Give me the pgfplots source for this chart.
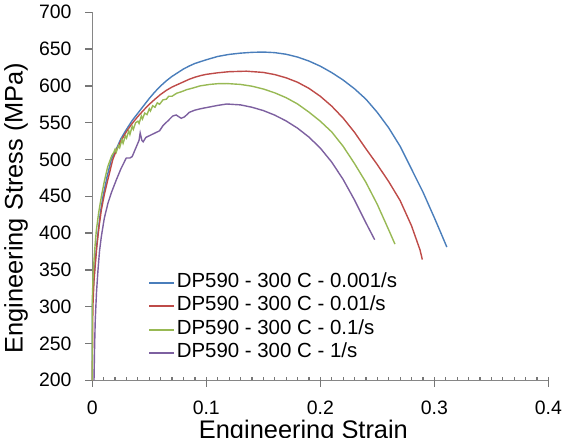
\documentclass[border=0pt]{standalone}
\usepackage{fontspec}
\setmainfont{Liberation Sans}
\usepackage{pgfplots}
\pgfplotsset{compat=1.18}
\definecolor{cblue}{RGB}{74,126,187}
\definecolor{cred}{RGB}{190,75,72}
\definecolor{cgreen}{RGB}{152,185,84}
\definecolor{cpurple}{RGB}{125,96,160}
\definecolor{axgray}{RGB}{134,134,134}
\definecolor{tickgray}{RGB}{118,118,118}
\begin{document}
\begin{tikzpicture}
\begin{axis}[
  at={(0,0)}, anchor=south west,
  scale only axis, width=456bp, height=368bp,
  xmin=0, xmax=0.4, ymin=200, ymax=700, clip=false,
  axis lines=left, axis line style={-, axgray, line width=0.9bp},
  xtick={0,0.1,0.2,0.3,0.4}, xticklabels={0,0.1,0.2,0.3,0.4},
  ytick={200,250,...,700},
  major tick length=0pt,
  /pgf/number format/assume math mode=true,
  tick label style={font=\fontsize{19.5}{22}\selectfont},
  x tick label style={anchor=base, yshift=-34bp},
  y tick label style={anchor=east, inner xsep=0pt, xshift=-20.6bp},
  xlabel={Engineering Strain}, ylabel={Engineering Stress (MPa)},
  label style={font=\fontsize{25.5}{28}\selectfont},
  xlabel style={at={(axis description cs:0.463,-0.157)}, anchor=base},
  ylabel style={at={(axis description cs:-0.1673,0.468)}, anchor=center},
  legend cell align=left,
  legend image code/.code={\draw[#1, line width=1.8bp] (0bp,0bp) -- (25bp,0bp);},
  legend style={at={(axis description cs:0.1228,0.292)}, anchor=north west,
    draw=none, fill=none, inner sep=0pt, row sep=3.3bp,
    font=\fontsize{20.5}{23}\selectfont,
    nodes={inner xsep=1.5bp, inner ysep=0pt, text height=14.5bp, text depth=5.5bp}},
]
% tick marks in axis units: major x cross the axis, minor x inside, y outside
\pgfplotsinvokeforeach{0,0.1,0.2,0.3,0.4}{
  \draw[tickgray, line width=1.3bp] (axis cs:#1,190.9) -- (axis cs:#1,204.5);}
\pgfplotsinvokeforeach{0.01,0.02,0.03,0.04,0.05,0.06,0.07,0.08,0.09,
  0.11,0.12,0.13,0.14,0.15,0.16,0.17,0.18,0.19,
  0.21,0.22,0.23,0.24,0.25,0.26,0.27,0.28,0.29,
  0.31,0.32,0.33,0.34,0.35,0.36,0.37,0.38,0.39}{
  \draw[tickgray, line width=1.2bp] (axis cs:#1,200) -- (axis cs:#1,204.8);}
\pgfplotsinvokeforeach{200,250,300,350,400,450,500,550,600,650,700}{
  \draw[tickgray, line width=1.3bp] (axis cs:0,#1) -- (axis cs:-0.0061,#1);}

\addplot[cblue, line width=1.4bp] coordinates {
 (0,200) (0,300) (0.001,330) (0.002,350) (0.0035,378) (0.005,400) (0.007,427)
 (0.0094,450) (0.013,477) (0.0167,500) (0.021,514) (0.025,528) (0.03,541)
 (0.035,553) (0.04,563) (0.045,573) (0.05,583) (0.055,592) (0.06,600) (0.065,607)
 (0.07,613) (0.075,618) (0.08,623) (0.085,627) (0.09,630.5) (0.095,633) (0.1,635.5)
 (0.11,640) (0.12,642.8) (0.13,644.5) (0.14,645.6) (0.15,646) (0.16,645.2)
 (0.17,643) (0.18,639.2) (0.19,633.8) (0.2,626.8) (0.21,618.1) (0.22,608)
 (0.23,596.1) (0.24,582) (0.25,564) (0.26,543) (0.27,518) (0.28,487) (0.29,456)
 (0.3,421) (0.305,403) (0.311,381)
};
\addlegendentry{DP590 - 300 C - 0.001/s}
\addplot[cred, line width=1.4bp] coordinates {
 (0,200) (0.0005,300) (0.0015,335) (0.0025,355) (0.004,382) (0.006,410) (0.008,432)
 (0.0105,452) (0.014,475) (0.018,500) (0.021,512) (0.025,525) (0.03,538)
 (0.035,549) (0.04,558.5) (0.045,567) (0.05,575) (0.055,582) (0.06,588.5)
 (0.065,594) (0.07,598.5) (0.075,602) (0.08,605.5) (0.085,609) (0.09,611.8)
 (0.095,614) (0.1,615.7) (0.11,617.8) (0.12,619.3) (0.135,620) (0.15,618.3)
 (0.16,615.4) (0.17,611) (0.18,605) (0.19,596.7) (0.2,585.9) (0.21,572.5)
 (0.22,556.3) (0.23,537) (0.24,514.6) (0.25,493) (0.26,470) (0.27,444.3)
 (0.28,410) (0.285,388) (0.2875,377) (0.2895,364)
};
\addlegendentry{DP590 - 300 C - 0.01/s}
\addplot[cgreen, line width=1.4bp] coordinates {
 (0,200) (0,310) (0.0008,345) (0.002,375) (0.0035,403) (0.0055,427) (0.008,450)
 (0.0105,470) (0.0135,490) (0.017,505) (0.019,510) (0.020,514) (0.021,510)
 (0.023,519) (0.024,516) (0.026,527) (0.027,522) (0.029,532) (0.030,529)
 (0.032,539) (0.033,534) (0.035,545) (0.036,541) (0.038,550) (0.040,552)
 (0.041,549) (0.043,559) (0.044,555) (0.046,563) (0.048,561) (0.050,569)
 (0.051,566) (0.053,573) (0.055,571) (0.057,577) (0.059,575) (0.062,581)
 (0.065,582) (0.067,586) (0.070,586) (0.074,590) (0.078,592) (0.083,595)
 (0.088,597) (0.0945,600) (0.103,602) (0.11,603) (0.118,603.2) (0.13,602)
 (0.14,599.6) (0.15,595.8) (0.16,590.6) (0.17,584) (0.18,575.5) (0.19,564.4)
 (0.2,552) (0.21,537.5) (0.22,518) (0.23,494.5) (0.24,469) (0.25,439)
 (0.26,404.4) (0.2655,385)
};
\addlegendentry{DP590 - 300 C - 0.1/s}
\addplot[cpurple, line width=1.4bp] coordinates {
 (0.0015,200) (0.002,245) (0.0026,282) (0.0037,320) (0.005,350) (0.0063,375)
 (0.0079,395) (0.0105,420) (0.0138,441) (0.017,456) (0.021,472) (0.025,487)
 (0.0285,498) (0.0298,502) (0.033,502) (0.035,504) (0.038,515) (0.041,526)
 (0.042,536) (0.0435,526) (0.0446,524) (0.047,530) (0.051,533) (0.055,536)
 (0.059,539) (0.062,546) (0.066,552) (0.0705,559) (0.0735,560.5) (0.076,558)
 (0.078,556) (0.081,558) (0.085,564) (0.0898,567) (0.095,569) (0.1,570.5)
 (0.11,573.5) (0.118,575.4) (0.13,574.2) (0.14,571) (0.15,566.5) (0.16,560.3)
 (0.17,552.4) (0.18,542.6) (0.19,530.5) (0.2,515.5) (0.21,496.5) (0.22,473)
 (0.23,445) (0.24,414) (0.2477,391)
};
\addlegendentry{DP590 - 300 C - 1/s}
\end{axis}
\pgfresetboundingbox
\useasboundingbox (-92.3bp,-57.7bp) rectangle (472.7bp,380.3bp);
\end{tikzpicture}
\end{document}
